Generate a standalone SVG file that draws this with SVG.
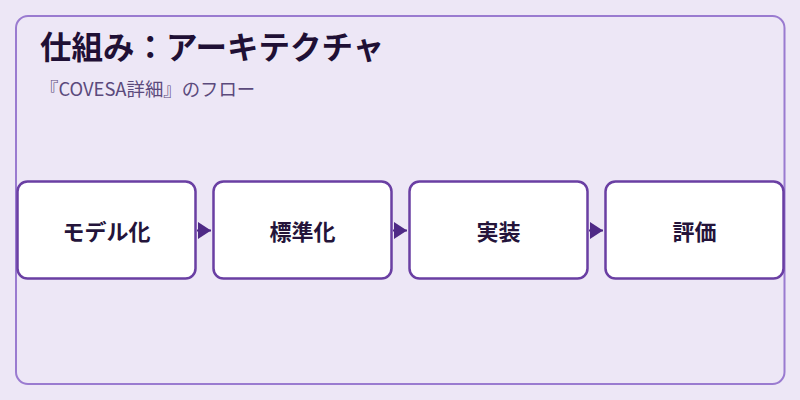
<svg xmlns="http://www.w3.org/2000/svg" width="800" height="400" viewBox="0 0 800 400">
<style>
.bg{fill:#ede7f6}
.panel{fill:#ede7f6;stroke:#9a7bd0;stroke-width:2}
.node rect{fill:#ffffff;stroke:#6a3fa3;stroke-width:2.5}
.node text{font-family:"Noto Sans CJK JP","Noto Sans",sans-serif;font-size:22px;font-weight:bold;fill:#24143a;text-anchor:middle;dominant-baseline:central}
.title{font-family:"Noto Sans CJK JP","Noto Sans",sans-serif;font-size:31.5px;font-weight:bold;fill:#1f1035}
.sub{font-family:"Noto Sans CJK JP","Noto Sans",sans-serif;font-size:18.4px;fill:#5b4a7c}
.conn{stroke:#4f2a86;stroke-width:2;fill:none}
</style>
<defs>
<marker id="arr" markerWidth="13" markerHeight="17" refX="13" refY="8.5" orient="auto" markerUnits="userSpaceOnUse">
<path d="M0,0 L13,8.5 L0,17 Z" fill="#4f2a86"/>
</marker>
</defs>
<rect class="bg" x="0" y="0" width="800" height="400"/>
<rect class="panel" x="16" y="16" width="768.5" height="368" rx="12"/>
<text class="title" x="40" y="59">仕組み：アーキテクチャ</text>
<text class="sub" x="40" y="96">『COVESA詳細』のフロー</text>
<g id="connectors">
<path class="conn" d="M197,230.5 L211,230.5" marker-end="url(#arr)"/>
<path class="conn" d="M393,230.5 L407,230.5" marker-end="url(#arr)"/>
<path class="conn" d="M589,230.5 L603,230.5" marker-end="url(#arr)"/>
</g>
<g id="node-model" class="node">
<rect x="17.5" y="181.5" width="178" height="97" rx="10"/>
<text x="106.5" y="229.5">モデル化</text>
</g>
<g id="node-standard" class="node">
<rect x="213.5" y="181.5" width="178" height="97" rx="10"/>
<text x="302.5" y="229.5">標準化</text>
</g>
<g id="node-impl" class="node">
<rect x="409.5" y="181.5" width="178" height="97" rx="10"/>
<text x="498.5" y="229.5">実装</text>
</g>
<g id="node-eval" class="node">
<rect x="605.5" y="181.5" width="178" height="97" rx="10"/>
<text x="694.5" y="229.5">評価</text>
</g>
</svg>
